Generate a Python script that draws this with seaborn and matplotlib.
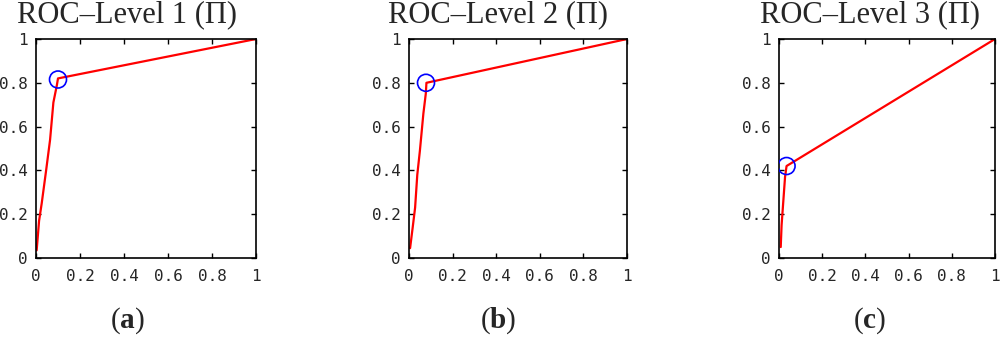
import seaborn as sns
import pandas as pd
import matplotlib.pyplot as plt

# ROC curves per level (false positive rate, true positive rate)
fpr_1 = [0.003, 0.014, 0.026, 0.046, 0.064, 0.079, 0.095, 0.10, 1.0]
tpr_1 = [0.035, 0.17, 0.25, 0.40, 0.54, 0.71, 0.79, 0.82, 1.0]
fpr_2 = [0.005, 0.017, 0.028, 0.038, 0.05, 0.066, 0.077, 0.08, 1.0]
tpr_2 = [0.045, 0.14, 0.23, 0.38, 0.49, 0.66, 0.75, 0.80, 1.0]
fpr_3 = [0.008, 0.012, 0.02, 0.028, 0.035, 1.0]
tpr_3 = [0.05, 0.15, 0.26, 0.37, 0.42, 1.0]

# operating points (blue circles)
op_fpr = [0.10, 0.078, 0.035]
op_tpr = [0.815, 0.80, 0.42]

titles = ['ROC\u2013Level 1 (\u03a0)', 'ROC\u2013Level 2 (\u03a0)', 'ROC\u2013Level 3 (\u03a0)']
letters = ['a', 'b', 'c']
ticks = [0, 0.2, 0.4, 0.6, 0.8, 1]
tick_labels = ['0', '0.2', '0.4', '0.6', '0.8', '1']

sns.set_style('white')
plt.rcParams['mathtext.fontset'] = 'custom'
plt.rcParams['mathtext.rm'] = 'Liberation Serif'
plt.rcParams['mathtext.bf'] = 'Liberation Serif:bold'

fig = plt.figure(figsize=(10, 3.38), dpi=100)

# axes boxes in pixels: left, right
boxes = [(36, 256), (409, 627), (779, 995)]
text_x = [127, 498, 870]
top_px, bottom_px = 39, 258

curves = [(fpr_1, tpr_1), (fpr_2, tpr_2), (fpr_3, tpr_3)]

for i, (fpr, tpr) in enumerate(curves):
    l, r = boxes[i]
    ax = fig.add_axes([l / 1000, (338 - bottom_px) / 338, (r - l) / 1000, (bottom_px - top_px) / 338])
    df = pd.DataFrame({'fpr': fpr, 'tpr': tpr})
    sns.lineplot(data=df, x='fpr', y='tpr', color='red', linewidth=1.6,
                 sort=False, estimator=None, ax=ax)
    sns.scatterplot(x=[op_fpr[i]], y=[op_tpr[i]], marker='o', s=150,
                    facecolor='none', edgecolor='blue', linewidth=1.2, ax=ax, zorder=5)
    ax.set_xlim(0, 1)
    ax.set_ylim(0, 1)
    ax.set_xlabel('')
    ax.set_ylabel('')
    ax.set_xticks(ticks)
    ax.set_yticks(ticks)
    ax.set_xticklabels(tick_labels, family='DejaVu Sans Mono', fontsize=11.5)
    ax.set_yticklabels(tick_labels, family='DejaVu Sans Mono', fontsize=11.5)
    ax.tick_params(direction='in', length=3.5, width=1, top=True, right=True,
                   bottom=True, left=True, color='black', pad=6)
    ax.tick_params(axis='x', pad=8)
    for sp in ax.spines.values():
        sp.set_color('black')
        sp.set_linewidth(1.2)

    fig.text(text_x[i] / 1000, 1 - 15 / 338, titles[i], family='Liberation Serif',
             fontsize=22, ha='center', va='center')
    fig.text(text_x[i] / 1000, 1 - 321 / 338, '($\\mathbf{%s}$)' % letters[i],
             family='Liberation Serif', fontsize=21, ha='center', va='center')

plt.savefig('out.png', dpi=100)
